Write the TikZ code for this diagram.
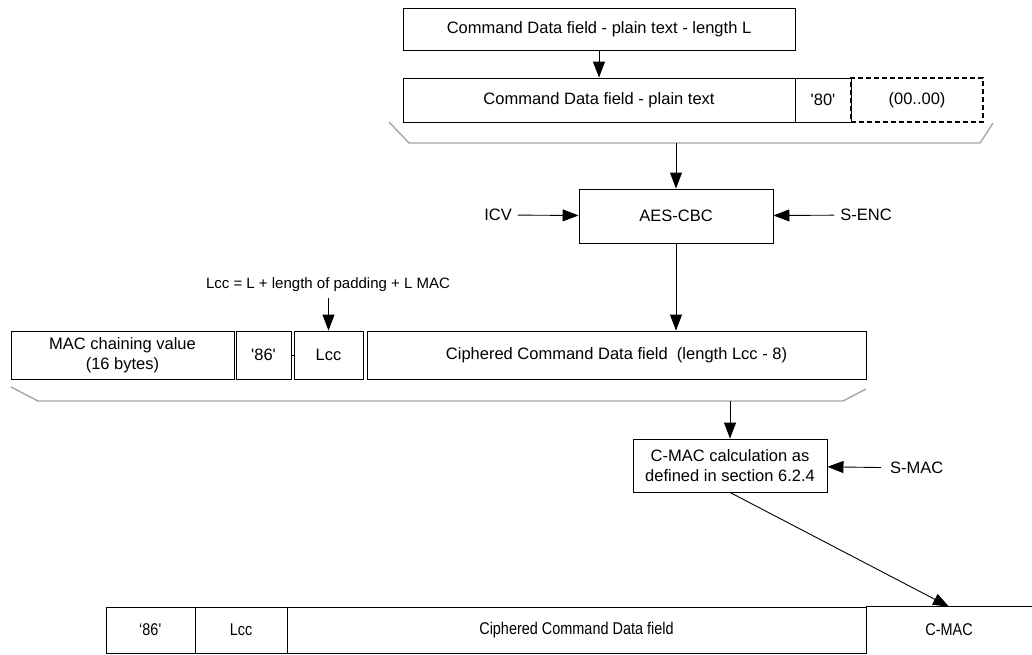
\documentclass[tikz,border=0pt]{standalone}
\usepackage{fontspec}
\setmainfont{Liberation Sans}
\newfontfamily\narrowsf[FakeStretch=0.85]{Liberation Sans}
\usetikzlibrary{arrows.meta,positioning,calc}
\tikzset{
  field/.style={draw,line width=0.9pt,inner sep=0pt,align=center,
                font=\fontsize{16.5}{20}\selectfont},
  cell/.style={draw,line width=0.6pt,inner sep=0pt,minimum height=46pt,
               font=\narrowsf\fontsize{17}{19}\selectfont},
  label/.style={inner sep=6pt,font=\fontsize{16.5}{20}\selectfont},
  flow/.style={-{Triangle[length=16pt,width=12pt]},line width=0.9pt},
  bracket/.style={draw=black!35,line width=1.4pt}
}
\begin{document}
\begin{tikzpicture}[x=1pt,y=-1pt]
  \useasboundingbox (0,0) rectangle (1032,654);

  \node[field,minimum width=392pt,minimum height=42pt] (plainL) at (599,29)
       {Command Data field - plain text - length L};
  \node[field,minimum width=392pt,minimum height=44pt] (plain) at (599,100)
       {Command Data field - plain text};
  \node[field,minimum width=56pt,minimum height=44pt] (pad80) at (823,100)
       {\textquotesingle 80\textquotesingle};
  \node[field,line width=1.2pt,dash pattern=on 5pt off 3pt,minimum width=132pt,minimum height=44pt]
       (zeros) at (917,100) {(00..00)};
  \draw[bracket] (389,122) -- (409,143) -- (980,143) -- (993,123);
  \coordinate (padout) at (676,143);

  \node[field,minimum width=194pt,minimum height=54pt] (aes) at (676,216) {AES-CBC};
  \node[label] (icv) at (498,215) {ICV};
  \node[label] (senc) at (866,215) {S-ENC};

  \node[label,font=\fontsize{15}{18}\selectfont] (lccnote) at (328,285)
       {Lcc = L + length of padding + L MAC};
  \node[field,minimum width=223pt,minimum height=48pt] (chain) at (122.5,355)
       {MAC chaining value\\(16 bytes)};
  \node[field,minimum width=55pt,minimum height=48pt] (tag86) at (263.5,355)
       {\textquotesingle 86\textquotesingle};
  \node[field,minimum width=69pt,minimum height=48pt] (lcc) at (328.5,355) {Lcc};
  \node[field,minimum width=499pt,minimum height=48pt] (ciph) at (616.5,355)
       {Ciphered Command Data field~~(length Lcc - 8)};
  \draw[line width=0.6pt] (tag86.east) -- (lcc.west);
  \draw[bracket] (11,387) -- (38,401) -- (843,401) -- (866,389);
  \coordinate (macin) at (730,401);

  \node[field,minimum width=194pt,minimum height=53pt] (cmac) at (730,465.5)
       {C-MAC calculation as\\defined in section 6.2.4};
  \node[label,anchor=west,inner sep=0pt] (smac) at (890,468) {S-MAC};

  \node[cell,minimum width=89pt] (out86) at (150.5,630) {‘86\textquotesingle};
  \node[cell,minimum width=92pt] (outlcc) at (241,630) {Lcc};
  \node[cell,minimum width=579pt] (outciph) at (576.5,630) {Ciphered Command Data field};
  \node[cell,draw=none,minimum width=166pt] (outmac) at (949,630) {C-MAC};
  \draw[line width=0.6pt] (outmac.north west) -- (outmac.north east);

  \draw[flow] (plainL) -- (plain);
  \draw[flow] (padout) -- (aes);
  \draw[flow] (icv) -- (aes);
  \draw[flow] (senc) -- (aes);
  \draw[flow] (aes.south) -- (aes.south |- ciph.north);
  \draw[flow] (lccnote.south -| lcc.north) -- (lcc.north);
  \draw[flow] (macin) -- (cmac);
  \draw[flow,shorten <=9pt] (smac) -- (cmac);
  \draw[flow] (cmac.south) -- (outmac.north);
\end{tikzpicture}
\end{document}
